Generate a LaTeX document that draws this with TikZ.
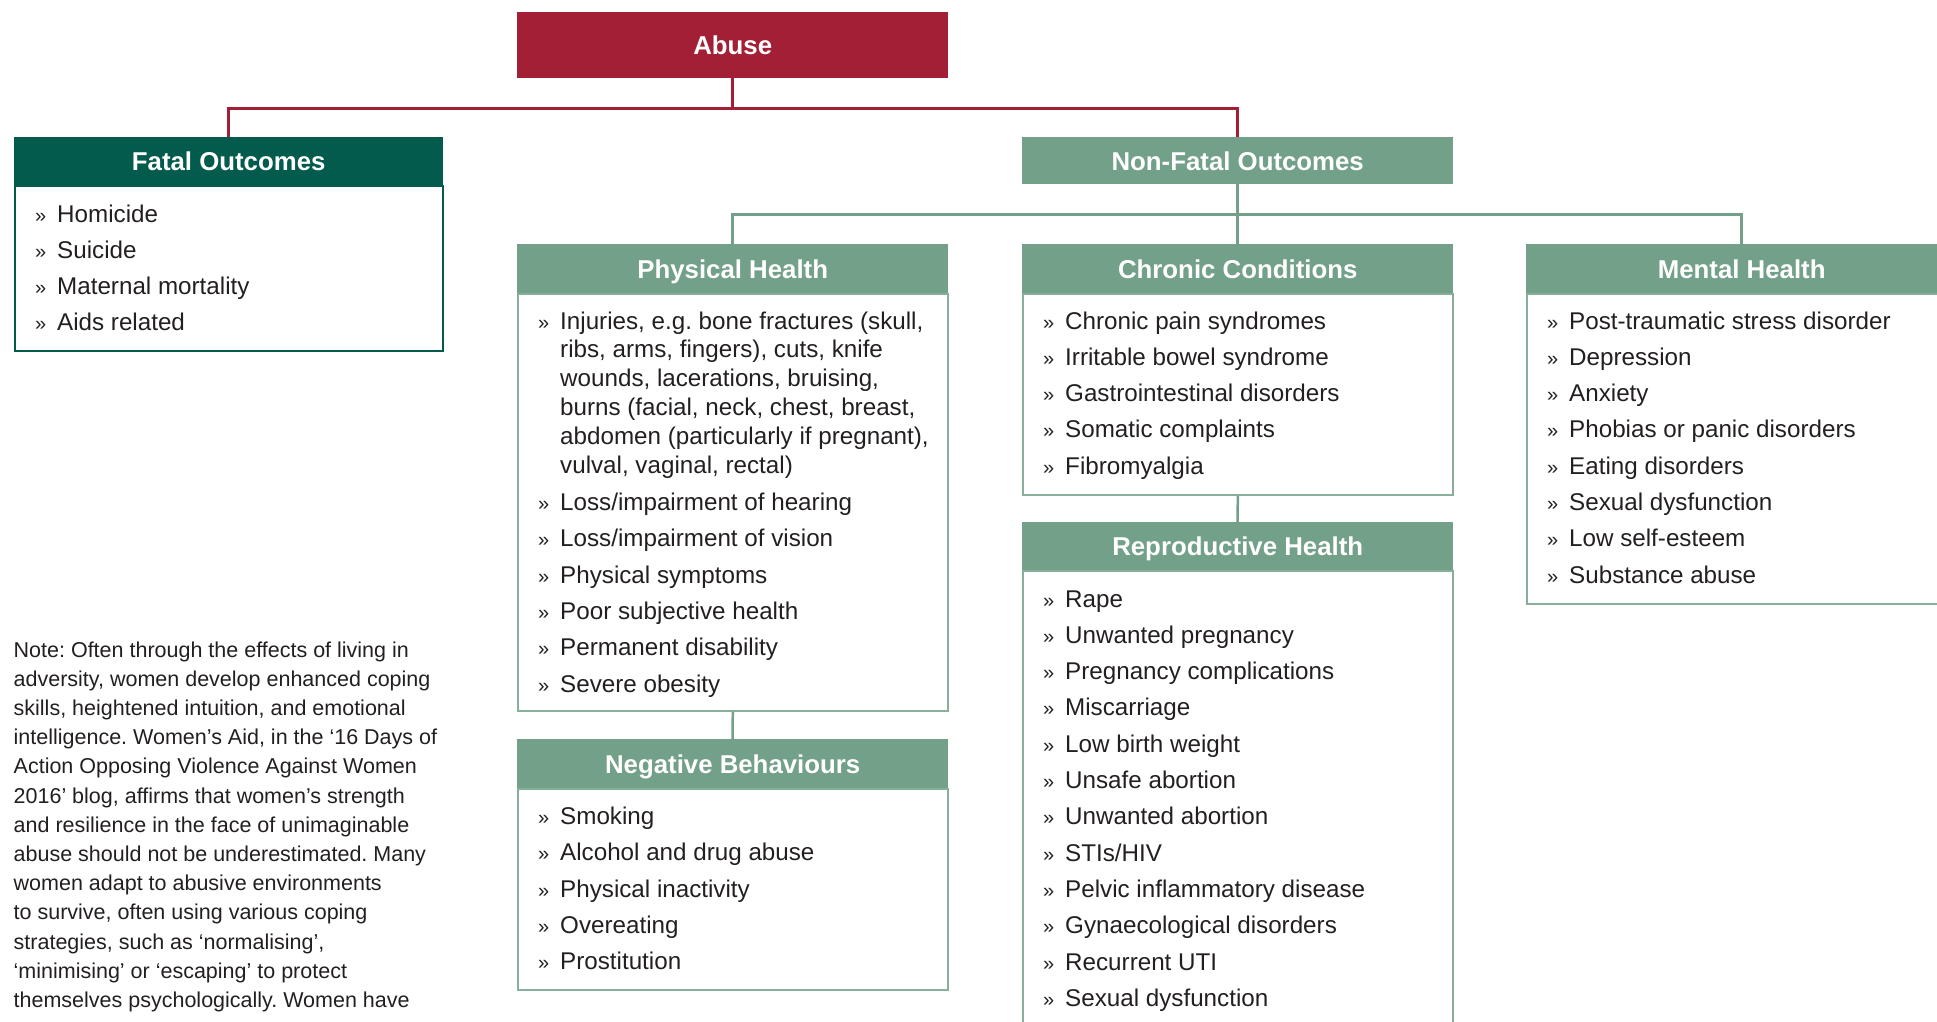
\documentclass[tikz,border=0pt]{standalone}
\usepackage{fontspec}
\setmainfont{Liberation Sans}
\frenchspacing
\definecolor{abred}{HTML}{A31F36}
\definecolor{fgreen}{HTML}{025B4C}
\definecolor{lgreen}{HTML}{72A088}
\definecolor{bgreen}{HTML}{86B09A}
\definecolor{txt}{HTML}{231F20}
\tikzset{
 hdr/.style={fill=lgreen, text=white, minimum width=431pt, minimum height=49pt, inner sep=0pt,
   font=\fontsize{25.8}{30}\selectfont\bfseries, text height=18.6pt, text depth=0pt, anchor=north west},
 bodybox/.style={draw=bgreen, line width=1.5pt, inner sep=0pt, minimum width=430pt, anchor=north west},
 itm/.style={anchor=base west, inner sep=0pt, text=txt, font=\fontsize{24.2}{29}\selectfont},
 bul/.style={anchor=base west, inner sep=0pt, text=txt, font=\fontsize{20}{22}\selectfont},
 redline/.style={draw=abred, line width=2.5pt},
 grnline/.style={draw=lgreen, line width=2.5pt},
 notetxt/.style={anchor=base west, inner sep=0pt, text=txt, font=\fontsize{21.5}{29}\selectfont},
}
\newcommand\itemsat[5]{%
 \foreach \t [count=\k from 0] in {#5} {
   \node[bul] (#1b\k) at (#2+21, #3+\k*#4) {»};
   \node[itm] (#1t\k) at (#2+43, #3+\k*#4) {\t};
 }}
\begin{document}
\begin{tikzpicture}[x=1pt,y=-1pt]
\useasboundingbox (0,0) rectangle (1937,1022);
\clip (0,0) rectangle (1937,1022);

% body boxes
\node[bodybox, draw=fgreen, minimum width=428pt, minimum height=165pt] (fatalb) at (14,185) {};
\node[bodybox, minimum height=417pt] (physb) at (517,293) {};
\node[bodybox, minimum height=201pt] (chronb) at (1022,293) {};
\node[bodybox, minimum height=310pt] (mentalb) at (1526,293) {};
\node[bodybox, minimum height=470pt] (reprob) at (1022,570) {};
\node[bodybox, minimum height=201pt] (negb) at (517,788) {};

% headers
\node[hdr, fill=abred, minimum height=66pt] (abuse) at (517,12) {Abuse};
\node[hdr, fill=fgreen, minimum width=429pt, minimum height=48pt] (fatalh) at (14,137) {Fatal Outcomes};
\node[hdr, minimum height=47pt] (nonfatal) at (1022,137) {Non-Fatal Outcomes};
\node[hdr] (physh) at (517,244) {Physical Health};
\node[hdr] (chronh) at (1022,244) {Chronic Conditions};
\node[hdr] (mentalh) at (1526,244) {Mental Health};
\node[hdr, minimum height=48pt] (reproh) at (1022,522) {Reproductive Health};
\node[hdr] (negh) at (517,739) {Negative Behaviours};

% connectors
\draw[redline] (abuse.south) -- ++(0,30) -| (fatalh.north);
\draw[redline] (abuse.south) -- ++(0,30) -| (nonfatal.north);
\draw[grnline] (nonfatal.south) -- ++(0,30) -| (physh.north);
\draw[grnline] (nonfatal.south) -- (chronh.north);
\draw[grnline] (nonfatal.south) -- ++(0,30) -| (mentalh.north);
\draw[grnline] (physb.south) -- (negh.north);
\draw[grnline] (chronb.south) -- (reproh.north);

% items
\itemsat{fat}{14}{222}{36}{Homicide,Suicide,Maternal mortality,Aids related}

\node[bul] (phyb0) at (538,329) {»};
\foreach \t [count=\k from 0] in {{Injuries, e.g. bone fractures (skull,},{ribs, arms, fingers), cuts, knife},{wounds, lacerations, bruising,},{burns (facial, neck, chest, breast,},{abdomen (particularly if pregnant),},{vulval, vaginal, rectal)}}
  \node[itm] (phyl\k) at (560, 329+\k*28.9) {\t};
\itemsat{phy}{517}{510.5}{36.3}{Loss/impairment of hearing,Loss/impairment of vision,Physical symptoms,Poor subjective health,Permanent disability,Severe obesity}

\itemsat{chr}{1022}{329}{36.3}{Chronic pain syndromes,Irritable bowel syndrome,Gastrointestinal disorders,Somatic complaints,Fibromyalgia}

\itemsat{men}{1526}{329}{36.3}{Post-traumatic stress disorder,Depression,Anxiety,Phobias or panic disorders,Eating disorders,Sexual dysfunction,Low self-esteem,Substance abuse}

\itemsat{rep}{1022}{607}{36.3}{Rape,Unwanted pregnancy,Pregnancy complications,Miscarriage,Low birth weight,Unsafe abortion,Unwanted abortion,STIs/HIV,Pelvic inflammatory disease,Gynaecological disorders,Recurrent UTI,Sexual dysfunction}

\itemsat{neg}{517}{824.3}{36.4}{Smoking,Alcohol and drug abuse,Physical inactivity,Overeating,Prostitution}

% note
\foreach \t [count=\k from 0] in {{Note: Often through the effects of living in},{adversity, women develop enhanced coping},{skills, heightened intuition, and emotional},{intelligence. Women’s Aid, in the ‘16 Days of},{Action Opposing Violence Against Women},{2016’ blog, affirms that women’s strength},{and resilience in the face of unimaginable},{abuse should not be underestimated. Many},{women adapt to abusive environments},{to survive, often using various coping},{strategies, such as ‘normalising’,},{‘minimising’ or ‘escaping’ to protect},{themselves psychologically. Women have}}
  \node[notetxt] (note\k) at (13.5, 657+\k*29.2) {\t};
\end{tikzpicture}
\end{document}
